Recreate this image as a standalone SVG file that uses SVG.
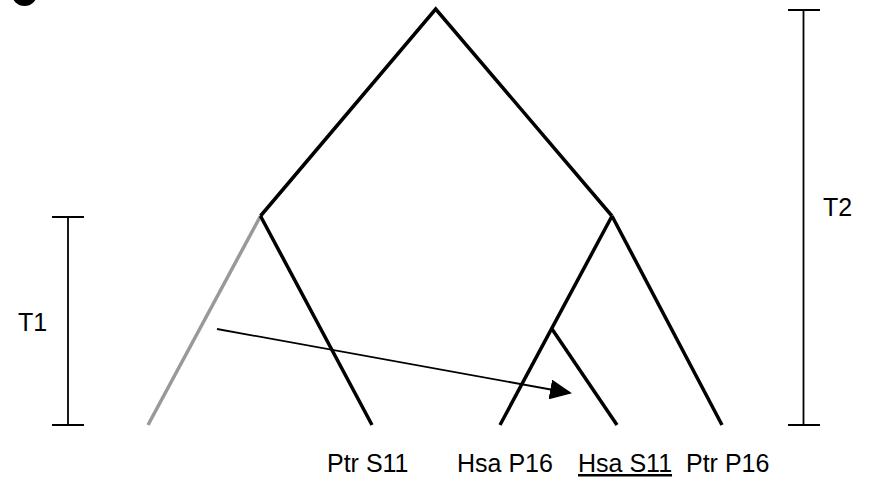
<svg xmlns="http://www.w3.org/2000/svg" width="872" height="482" viewBox="0 0 872 482">
<defs>
<style>
.br{fill:none;stroke:#000;stroke-width:3.5;stroke-linejoin:miter}
.gr{fill:none;stroke:#999;stroke-width:3.5}
.bar{fill:none;stroke:#000;stroke-width:1.8}
.lbl{font-family:"Liberation Sans",Arial,sans-serif;font-size:25px;fill:#000}
</style>
<marker id="ah" markerWidth="22" markerHeight="20" refX="20" refY="10" orient="auto" markerUnits="userSpaceOnUse">
<path d="M0,0 L22,10 L0,20 Z" fill="#000"/>
</marker>
</defs>
<rect width="872" height="482" fill="#fff"/>
<ellipse cx="24.5" cy="-6" rx="12.5" ry="12" fill="#000"/>
<g id="tree">
<path class="br" d="M260.5,216 L435.7,9 L612,216"/>
<g id="left-clade">
<path class="gr" d="M260.5,216 L148,425"/>
<path class="br" d="M260.5,216 L372,425"/>
</g>
<g id="right-clade">
<path class="br" d="M612,216 L500,425"/>
<path class="br" d="M612,216 L722,425"/>
<path class="br" d="M552,329 L617,425"/>
</g>
</g>
<g id="connectors">
<line x1="217" y1="329" x2="570" y2="393" stroke="#000" stroke-width="1.8" marker-end="url(#ah)"/>
</g>
<g id="T1">
<path class="bar" d="M68,217 V425 M52,217 H84 M52,425 H84"/>
<text class="lbl" x="18" y="331">T1</text>
</g>
<g id="T2">
<path class="bar" d="M803.5,10 V425 M788,10 H820 M788,425 H820"/>
<text class="lbl" x="823" y="216">T2</text>
</g>
<g id="labels">
<text class="lbl" x="327" y="472">Ptr S11</text>
<text class="lbl" x="457" y="472">Hsa P16</text>
<text class="lbl" x="578" y="472" text-decoration="underline">Hsa S11</text>
<text class="lbl" x="686" y="472">Ptr P16</text>
</g>
</svg>
